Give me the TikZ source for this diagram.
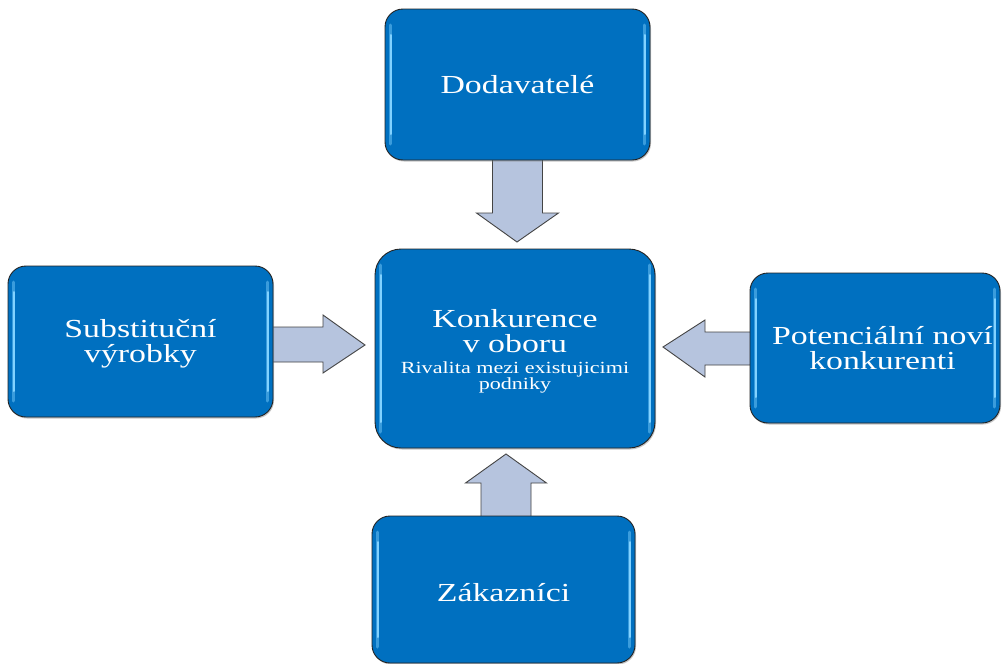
\documentclass[tikz,border=0pt]{standalone}
\usepackage{fontspec}
\newfontfamily\boxfont[FakeStretch=1.3]{Liberation Serif}
\usetikzlibrary{calc,shadows,backgrounds}
\definecolor{boxblue}{RGB}{0,112,192}
\definecolor{boxglow}{RGB}{130,210,255}
\definecolor{arrowfill}{RGB}{182,196,222}
\definecolor{edgegray}{RGB}{35,35,35}
% light glossy strips along the inner left and right edges of a box
\newcommand\edgeglow[1]{%
  \draw[boxglow!45!boxblue, line width=3pt, line cap=round]
    ($(#1.north west)+(5.5,16)$) -- ($(#1.south west)+(5.5,-16)$)
    ($(#1.north east)+(-5.5,16)$) -- ($(#1.south east)+(-5.5,-16)$);
  \draw[boxglow, line width=2pt, line cap=round]
    ($(#1.north west)+(5.5,26)$) -- ($(#1.south west)+(5.5,-26)$)
    ($(#1.north east)+(-5.5,26)$) -- ($(#1.south east)+(-5.5,-26)$);}
\begin{document}
\begin{tikzpicture}[x=1pt,y=-1pt,
  forcebox/.style={draw=edgegray, line width=0.9pt, fill=boxblue, rounded corners=18pt,
    inner sep=0pt, outer sep=0pt,
    drop shadow={shadow xshift=1pt, shadow yshift=-1.5pt, opacity=0.45}},
  forcetext/.style={text=white, font=\boxfont\fontsize{26}{25}\selectfont, align=center, inner sep=0pt},
  forcearrow/.style={draw=edgegray!85, line width=0.9pt, fill=arrowfill, line join=miter}]
\useasboundingbox (0,0) rectangle (1002,664);

% the five forces
\node[forcebox, minimum width=265pt, minimum height=151pt] (sup) at (517.5,84.5) {};
\node[forcebox, minimum width=280pt, minimum height=199pt, rounded corners=26pt] (mid) at (515,348.5) {};
\node[forcebox, minimum width=265pt, minimum height=151pt] (sub) at (140.5,341.5) {};
\node[forcebox, minimum width=250pt, minimum height=150pt] (pot) at (875,348) {};
\node[forcebox, minimum width=263pt, minimum height=147pt] (cus) at (503.5,589.5) {};

\edgeglow{sup}
\edgeglow{mid}
\edgeglow{sub}
\edgeglow{pot}
\edgeglow{cus}

% box captions
\node[forcetext] (supt) at ($(sup.center)+(0,0)$) {Dodavatelé};
\node[forcetext] (midt) at ($(mid.center)+(0,3)$)
  {Konkurence\\v oboru\\[-4pt]\fontsize{17}{15}\selectfont Rivalita mezi existujicimi\\[-9pt]\fontsize{17}{15}\selectfont podniky};
\node[forcetext] (subt) at ($(sub.center)+(0,2.5)$) {Substituční\\výrobky};
\node[forcetext] (pott) at ($(pot.center)+(7.5,0)$) {Potenciální noví\\konkurenti};
\node[forcetext] (cust) at ($(cus.center)+(0,3.5)$) {Zákazníci};

% block arrows pointing at the central box, behind the boxes
\begin{scope}[on background layer]
\fill[white] (0,0) rectangle (1002,664);
\draw[forcearrow] ($(sup.south)+(-25,0)$) -- ++(0,53) -- ++(-16,0)
  -- ($(mid.north)+(2,-7)$) -- ($(sup.south)+(41,53)$) -- ++(-16,0) -- ($(sup.south)+(25,0)$);
\draw[forcearrow] ($(sub.east)+(0,-14.5)$) -- ++(50,0) -- ++(0,-12)
  -- ($(mid.west)+(-10,-3.5)$) -- ($(sub.east)+(50,31.5)$) -- ++(0,-11) -- ($(sub.east)+(0,20.5)$);
\draw[forcearrow] ($(pot.west)+(0,-16)$) -- ++(-45,0) -- ++(0,-12)
  -- ($(mid.east)+(8,-1.5)$) -- ($(pot.west)+(-45,29)$) -- ++(0,-12) -- ($(pot.west)+(0,17)$);
\draw[forcearrow] ($(cus.north)+(-22.5,0)$) -- ++(0,-33) -- ++(-15.5,0)
  -- ($(mid.south)+(-9,6)$) -- ($(cus.north)+(43,-33)$) -- ++(-15.5,0) -- ($(cus.north)+(27.5,0)$);
\end{scope}
\end{tikzpicture}
\end{document}
